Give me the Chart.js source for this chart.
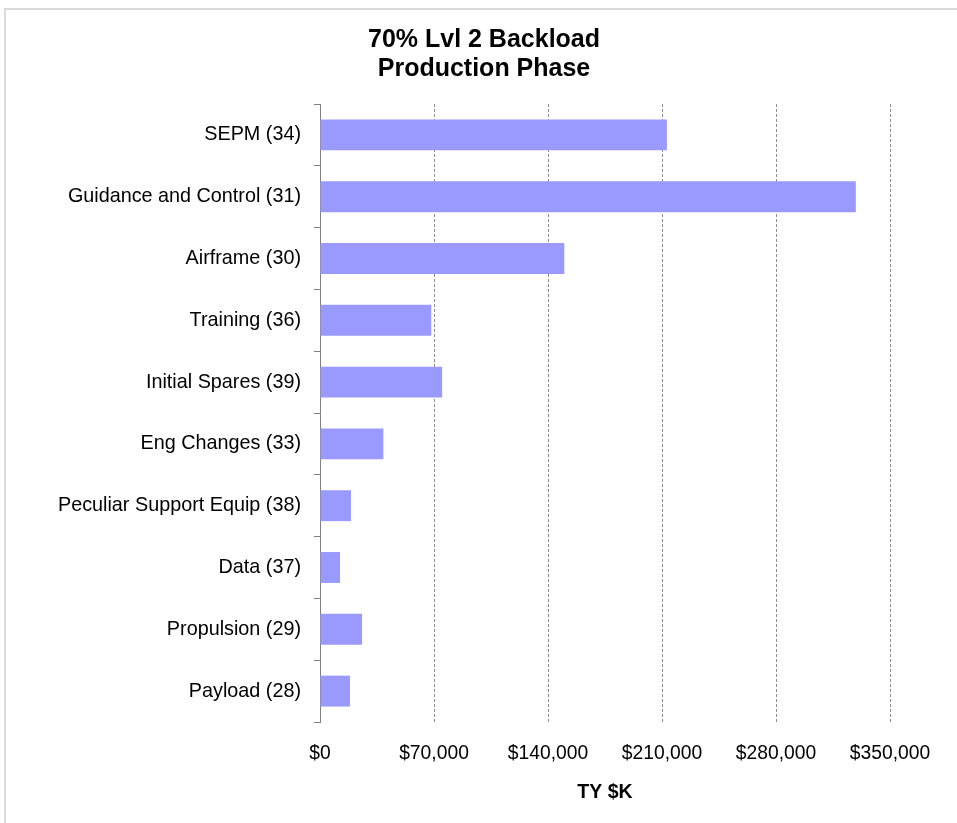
<!DOCTYPE html>
<html>
<head>
<meta charset="utf-8">
<script src="https://cdn.jsdelivr.net/npm/chart.js@4.4.1/dist/chart.umd.min.js"></script>
<style>
  html, body { margin: 0; padding: 0; background: #fff; overflow: hidden; width: 957px; height: 823px; }
  #frame { position: absolute; left: 4px; top: 8px; width: 980px; height: 830px;
           border-top: 2px solid #dadada; border-left: 2px solid #dadada; }
  #box { position: absolute; left: 3px; top: 8px; width: 962px; height: 815px; }
</style>
</head>
<body>
<div id="frame"></div>
<div id="box"><canvas id="c"></canvas></div>
<script>
// Cost elements (WBS number in parentheses), top to bottom
const categories = [
  'SEPM (34)',
  'Guidance and Control (31)',
  'Airframe (30)',
  'Training (36)',
  'Initial Spares (39)',
  'Eng Changes (33)',
  'Peculiar Support Equip (38)',
  'Data (37)',
  'Propulsion (29)',
  'Payload (28)'
];

// Then-year cost, $K
const costTY = [213000, 329000, 150000, 68300, 75000, 38900, 19000, 12300, 25800, 18400];

// Value axis ticks
const axisMin = 0;
const axisMax = 350000;
const axisStep = 70000;

const titleLines = ['70% Lvl 2 Backload', 'Production Phase'];
const valueAxisTitle = 'TY $K';

const FONT = "'Liberation Sans', Arial, Helvetica, sans-serif";

// Centre the title over the whole canvas rather than the padded box
const centreTitle = {
  id: 'centreTitle',
  afterLayout(chart) {
    const t = chart.titleBlock;
    if (t) { t.left = 0; t.right = chart.width; }
  }
};

new Chart(document.getElementById('c'), {
  type: 'bar',
  data: {
    labels: categories,
    datasets: [{
      data: costTY,
      backgroundColor: '#9999ff',
      borderWidth: 0,
      categoryPercentage: 1.0,
      barPercentage: 0.5
    }]
  },
  options: {
    indexAxis: 'y',
    responsive: true,
    maintainAspectRatio: false,
    animation: false,
    layout: { padding: { left: 54, right: 75, top: 0, bottom: 15 } },
    plugins: {
      legend: { display: false },
      tooltip: { enabled: false },
      title: {
        display: true,
        text: titleLines,
        color: '#000',
        font: { family: FONT, size: 25, weight: 'bold', lineHeight: 1.16 },
        padding: { top: 18, bottom: 20 }
      }
    },
    scales: {
      x: {
        type: 'linear',
        min: axisMin,
        max: axisMax,
        border: { display: false, dash: [3, 2] },
        grid: {
          color: '#8c8c8c',
          lineWidth: 1,
          drawTicks: false
        },
        ticks: {
          stepSize: axisStep,
          padding: 20,
          color: '#000',
          font: { family: FONT, size: 19.3 },
          callback: v => '$' + Number(v).toLocaleString('en-US')
        },
        title: {
          display: true,
          text: valueAxisTitle,
          color: '#000',
          font: { family: FONT, size: 19.5, weight: 'bold' },
          padding: { top: 15, bottom: 4 }
        },
        afterFit: s => { s.height = 86; }
      },
      y: {
        type: 'category',
        offset: true,
        border: { display: true, color: '#808080', width: 1 },
        grid: {
          offset: true,
          drawOnChartArea: false,
          drawTicks: true,
          tickLength: 6,
          color: '#808080'
        },
        ticks: {
          padding: 13,
          color: '#000',
          font: { family: FONT, size: 19.8 }
        },
        afterFit: s => { s.width = 263; }
      }
    }
  },
  plugins: [centreTitle]
});
</script>
</body>
</html>
